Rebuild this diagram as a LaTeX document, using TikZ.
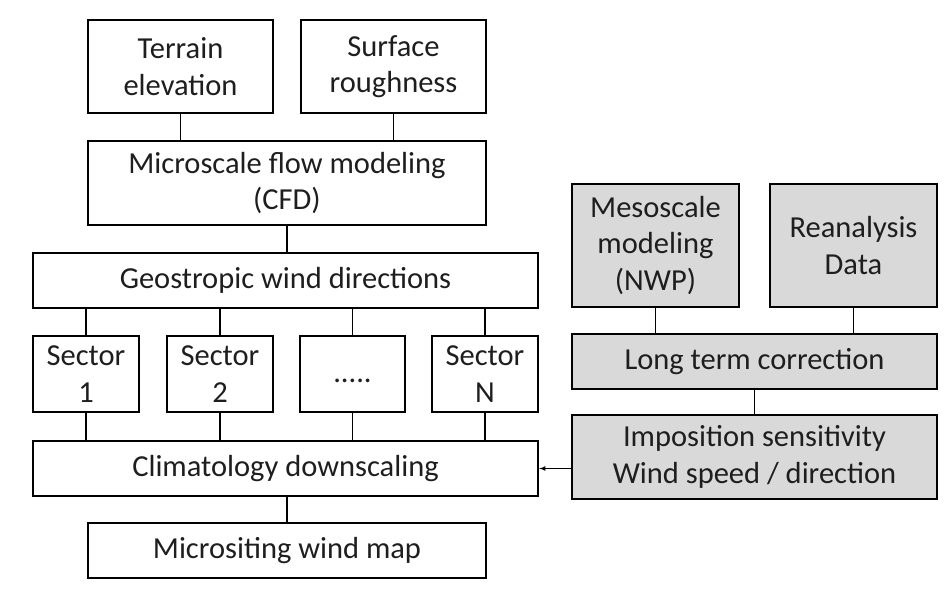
\documentclass[tikz,border=0pt]{standalone}
\usepackage{fontspec}
\setmainfont{Carlito}
\usepackage{tikz}
\usetikzlibrary{arrows}
\usetikzlibrary{positioning,calc}

\definecolor{boxgray}{RGB}{217,217,217}
\definecolor{inkgray}{RGB}{30,30,30}
\newcommand{\boxfont}{\fontsize{30.5}{36.5}\selectfont}

\tikzset{
  box/.style={draw, line width=2.4pt, align=center, inner sep=0pt, font=\boxfont, text=inkgray},
  graybox/.style={box, fill=boxgray},
  link/.style={line width=1.1pt}
}

\begin{document}
\begin{tikzpicture}[>=latex, x=1pt, y=-1pt]
		\useasboundingbox (0,0) rectangle (951,600);
		% inputs of the microscale model
		\node[box, minimum width=185, minimum height=93] (terrain) at (180.5,66.5) {Terrain\\elevation};
		\node[box, minimum width=185, minimum height=93] (rough) at (393.5,66.5) {Surface\\roughness};
		\node[box, minimum width=398, minimum height=84] (cfd) at (287,183) {Microscale flow modeling\\(CFD)};
		\node[box, minimum width=505, minimum height=55] (geo) at (285.5,280.5) {Geostropic wind directions};
		% sectors
		\node[box, minimum width=106, minimum height=76] (sec1) at (86,374) {Sector\\1};
		\node[box, minimum width=106, minimum height=76] (sec2) at (220,374) {Sector\\2};
		\node[box, minimum width=105, minimum height=76, text height=16pt, text depth=0pt] (secdots) at (352.5,374) {.....};
		\node[box, minimum width=106, minimum height=76] (secN) at (485,374) {Sector\\N};
		\node[box, minimum width=505, minimum height=55] (clim) at (285.5,468.5) {Climatology downscaling};
		\node[box, minimum width=398, minimum height=55] (windmap) at (287,550.5) {Micrositing wind map};
		% mesoscale side
		\node[graybox, minimum width=167, minimum height=123] (meso) at (655.5,245.5) {Mesoscale\\modeling\\(NWP)};
		\node[graybox, minimum width=167, minimum height=123] (reana) at (853.5,245.5) {Reanalysis\\Data};
		\node[graybox, minimum width=365, minimum height=55] (ltc) at (754.5,361.5) {Long term correction};
		\node[graybox, minimum width=365, minimum height=84] (impos) at (754.5,457) {Imposition sensitivity\\Wind speed / direction};

		\draw[link] (terrain) -- (terrain |- cfd.north);
		\draw[link] (rough) -- (rough |- cfd.north);
		\draw[link] (cfd) -- (cfd |- geo.north);
		\foreach \s in {sec1,sec2,secdots,secN} {
			\draw[link] (\s.north) -- (\s |- geo.south);
			\draw[link] (\s.south) -- (\s |- clim.north);
		}
		\draw[link] (windmap.north) -- (windmap |- clim.south);
		\draw[link] (meso.south) -- (meso |- ltc.north);
		\draw[link] (reana.south) -- (reana |- ltc.north);
		\draw[link] (ltc.south) -- (impos.north);
		\draw[link, ->] (impos.west |- clim.east) -- (clim.east);
		\end{tikzpicture}
\end{document}
